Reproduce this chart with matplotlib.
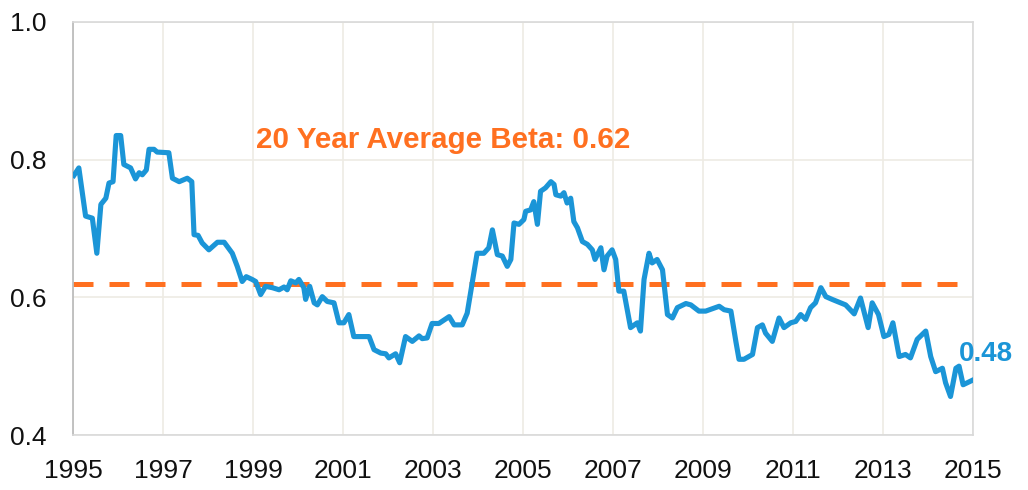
import matplotlib
matplotlib.use("Agg")
import matplotlib.pyplot as plt

plt.rcParams['font.family'] = ['Liberation Sans', 'DejaVu Sans']

years = [1995.02, 1995.13, 1995.28, 1995.43, 1995.53, 1995.62, 1995.73, 1995.80, 1995.89, 1995.96,
         1996.06, 1996.13, 1996.28, 1996.39, 1996.47, 1996.54, 1996.63, 1996.69, 1996.80, 1996.87,
         1997.13, 1997.21, 1997.36, 1997.54, 1997.64, 1997.69, 1997.78, 1997.87, 1998.02, 1998.21,
         1998.36, 1998.54, 1998.65, 1998.76, 1998.85, 1998.98, 1999.06, 1999.17, 1999.28, 1999.43,
         1999.58, 1999.69, 1999.76, 1999.84, 1999.95, 2000.02, 2000.13, 2000.17, 2000.26, 2000.36,
         2000.43, 2000.54, 2000.65, 2000.80, 2000.91, 2001.02, 2001.13, 2001.24, 2001.39, 2001.58,
         2001.69, 2001.84, 2001.95, 2002.02, 2002.17, 2002.26, 2002.39, 2002.54, 2002.69, 2002.76,
         2002.87, 2002.98, 2003.13, 2003.36, 2003.47, 2003.65, 2003.76, 2003.87, 2003.98, 2004.13,
         2004.24, 2004.32, 2004.43, 2004.54, 2004.65, 2004.73, 2004.80, 2004.91, 2005.02, 2005.06,
         2005.17, 2005.24, 2005.32, 2005.39, 2005.50, 2005.62, 2005.69, 2005.73, 2005.84, 2005.91,
         2005.98, 2006.06, 2006.13, 2006.21, 2006.32, 2006.43, 2006.54, 2006.60, 2006.73, 2006.80,
         2006.87, 2006.98, 2007.06, 2007.13, 2007.24, 2007.39, 2007.54, 2007.61, 2007.69, 2007.80,
         2007.87, 2007.98, 2008.10, 2008.21, 2008.32, 2008.43, 2008.62, 2008.73, 2008.91, 2009.06,
         2009.36, 2009.47, 2009.62, 2009.73, 2009.80, 2009.91, 2010.10, 2010.21, 2010.32, 2010.39,
         2010.54, 2010.69, 2010.80, 2010.95, 2011.06, 2011.17, 2011.28, 2011.39, 2011.50, 2011.62,
         2011.73, 2011.87, 2012.06, 2012.17, 2012.36, 2012.50, 2012.67, 2012.76, 2012.90, 2013.02,
         2013.13, 2013.22, 2013.36, 2013.50, 2013.61, 2013.76, 2013.95, 2014.06, 2014.17, 2014.32,
         2014.39, 2014.50, 2014.62, 2014.69, 2014.78, 2014.97]

beta = [0.777, 0.788, 0.718, 0.715, 0.664, 0.735, 0.744, 0.766, 0.768, 0.835,
        0.835, 0.793, 0.788, 0.772, 0.781, 0.778, 0.785, 0.815, 0.815, 0.811,
        0.810, 0.773, 0.768, 0.773, 0.768, 0.691, 0.690, 0.679, 0.669, 0.680,
        0.680, 0.664, 0.645, 0.623, 0.630, 0.626, 0.623, 0.604, 0.616, 0.614,
        0.611, 0.615, 0.611, 0.624, 0.621, 0.626, 0.614, 0.597, 0.616, 0.592,
        0.589, 0.601, 0.594, 0.592, 0.563, 0.563, 0.575, 0.543, 0.543, 0.543,
        0.524, 0.519, 0.518, 0.512, 0.518, 0.505, 0.543, 0.536, 0.544, 0.540,
        0.541, 0.562, 0.562, 0.572, 0.560, 0.560, 0.577, 0.621, 0.664, 0.664,
        0.672, 0.698, 0.662, 0.660, 0.645, 0.655, 0.708, 0.706, 0.713, 0.725,
        0.727, 0.739, 0.706, 0.754, 0.759, 0.768, 0.764, 0.749, 0.747, 0.752,
        0.737, 0.744, 0.710, 0.701, 0.681, 0.677, 0.669, 0.655, 0.672, 0.640,
        0.660, 0.669, 0.655, 0.609, 0.609, 0.556, 0.563, 0.551, 0.626, 0.664,
        0.650, 0.655, 0.640, 0.575, 0.570, 0.585, 0.591, 0.589, 0.580, 0.580,
        0.587, 0.582, 0.580, 0.536, 0.510, 0.510, 0.517, 0.556, 0.560, 0.548,
        0.536, 0.570, 0.556, 0.563, 0.565, 0.575, 0.568, 0.585, 0.592, 0.614,
        0.601, 0.597, 0.592, 0.589, 0.576, 0.599, 0.556, 0.592, 0.575, 0.543,
        0.546, 0.563, 0.514, 0.517, 0.512, 0.539, 0.551, 0.514, 0.492, 0.497,
        0.476, 0.456, 0.497, 0.500, 0.473, 0.479]

average_beta = 0.62
x_ticks = [1995, 1997, 1999, 2001, 2003, 2005, 2007, 2009, 2011, 2013, 2015]
y_ticks = [0.4, 0.6, 0.8, 1.0]
avg_label = "20 Year Average Beta: 0.62"

blue = '#1b95d7'
orange = '#ff7020'

fig = plt.figure(figsize=(10.28, 4.9), dpi=100)
ax = fig.add_axes([0.071, 0.1122, 0.8755, 0.843])

ax.plot(years, beta, color=blue, lw=3.7, solid_joinstyle='round', zorder=3)
ax.axhline(average_beta, color=orange, lw=3.6, dashes=(4, 3.2), zorder=2)

ax.set_xlim(1995, 2015)
ax.set_ylim(0.4, 1.0)
ax.set_xticks(x_ticks)
ax.set_xticklabels([str(t) for t in x_ticks])
ax.set_yticks(y_ticks)
ax.set_yticklabels([f"{t:.1f}" for t in y_ticks])
ax.tick_params(axis='both', length=0, labelsize=19, colors='#111111')
ax.tick_params(axis='x', pad=17)
ax.tick_params(axis='y', pad=19)

ax.grid(True, color='#eeebe4', lw=1.2, zorder=0)
ax.set_axisbelow(True)
for s in ax.spines.values():
    s.set_color('#d9d9d9')
    s.set_linewidth(1.2)
ax.spines['left'].set_color('#b8b8b8')

ax.text(1999.07, 0.829, avg_label, color=orange, fontsize=21.3, fontweight='bold',
        ha='left', va='center')
ax.text(2014.69, 0.518, f"{beta[-1]:.2f}", color=blue, fontsize=20, fontweight='bold',
        ha='left', va='center', clip_on=False)

fig.savefig('out.png', dpi=100)
